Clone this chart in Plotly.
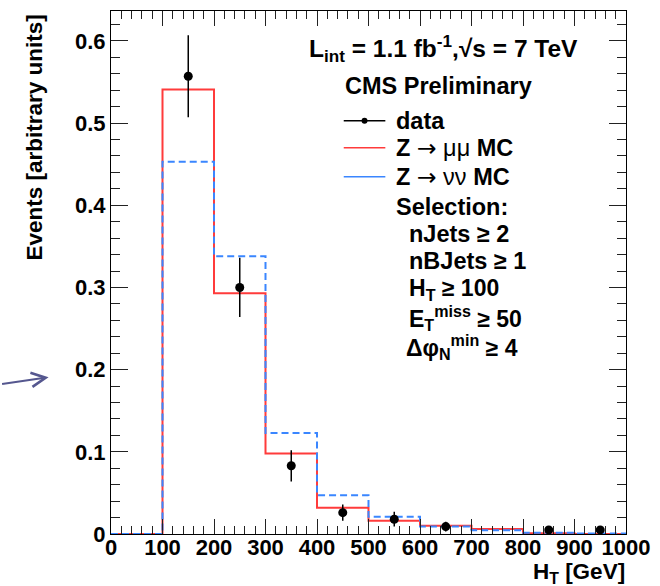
import plotly.graph_objects as go

# ---- data ----
bin_edges = [0, 100, 200, 300, 400, 500, 600, 700, 800, 900, 1000]
zmumu_mc = [0.0, 0.541, 0.293, 0.098, 0.032, 0.016, 0.010, 0.006, 0.001, 0.0]
znunu_mc = [0.0, 0.453, 0.338, 0.123, 0.047, 0.021, 0.009, 0.0045, 0.0016, 0.0005]
data_x = [150, 250, 350, 450, 550, 650, 850, 950]
data_y = [0.557, 0.300, 0.083, 0.026, 0.018, 0.009, 0.005, 0.005]
data_err = [0.050, 0.036, 0.019, 0.010, 0.009, 0.006, 0.002, 0.002]

x_ticks = list(range(0, 1001, 100))
y_ticks = [0, 0.1, 0.2, 0.3, 0.4, 0.5, 0.6]
y_tick_text = ["0", "0.1", "0.2", "0.3", "0.4", "0.5", "0.6"]
X_RANGE = [0, 1000]
Y_RANGE = [0, 0.6364]

RED = "#ff3b3b"
BLUE = "#3a86ff"
FONT = "Liberation Sans"
TXT = 23.5

W, H = 660, 586
L, R, T, B = 111, 29, 10, 52
PW, PH = W - L - R, H - T - B


def px(x):
    return (x - L) / PW


def py(y):
    return (H - B - y) / PH


fig = go.Figure()

fig.add_trace(go.Scatter(
    x=bin_edges, y=zmumu_mc + [zmumu_mc[-1]], mode="lines",
    line=dict(color=RED, width=2, shape="hv"), name="Z → μμ MC",
    showlegend=False))
fig.add_trace(go.Scatter(
    x=bin_edges, y=znunu_mc + [znunu_mc[-1]], mode="lines",
    line=dict(color=BLUE, width=2, shape="hv", dash="7px,4px"),
    name="Z → νν MC", showlegend=False))
fig.add_trace(go.Scatter(
    x=data_x, y=data_y, mode="markers",
    marker=dict(color="black", size=9, symbol="circle"),
    error_y=dict(type="data", array=data_err, visible=True,
                 color="black", thickness=1.5, width=0),
    name="data", showlegend=False))
# empty trace to attach the mirrored (top/right) tick axes
fig.add_trace(go.Scatter(x=[None], y=[None], xaxis="x2", yaxis="y2",
                         mode="lines", showlegend=False, hoverinfo="skip"))

tickfont = dict(family=FONT, size=22, color="black", weight="bold")
xminor = dict(ticks="inside", dtick=20, ticklen=8, tickcolor="#222", tickwidth=1)
yminor = dict(ticks="inside", dtick=0.02, ticklen=9, tickcolor="#222", tickwidth=1)

fig.update_layout(
    xaxis=dict(range=X_RANGE, tickvals=x_ticks, ticks="inside", ticklen=15,
               tickcolor="#222", tickwidth=1, minor=xminor,
               showline=True, linecolor="black", linewidth=1, mirror=True,
               showgrid=False, zeroline=False, tickfont=tickfont,
               ticklabelstandoff=-6),
    yaxis=dict(range=Y_RANGE, tickvals=y_ticks, ticktext=y_tick_text,
               ticks="inside", ticklen=17, tickcolor="#222", tickwidth=1,
               minor=yminor, showline=True, linecolor="black", linewidth=1,
               mirror=True, showgrid=False, zeroline=False, tickfont=tickfont),
    xaxis2=dict(range=X_RANGE, tickvals=x_ticks, ticks="inside", ticklen=15,
                tickcolor="#222", tickwidth=1, minor=xminor, side="top",
                overlaying="x", anchor="y2", showticklabels=False,
                showline=False, showgrid=False, zeroline=False),
    yaxis2=dict(range=Y_RANGE, tickvals=y_ticks, ticks="inside", ticklen=17,
                tickcolor="#222", tickwidth=1, minor=yminor, side="right",
                overlaying="y", anchor="x2", showticklabels=False,
                showline=False, showgrid=False, zeroline=False),
)

ann = []


def add_text(x, y, text, xanchor="left", size=TXT):
    ann.append(dict(x=px(x), y=py(y), xref="paper", yref="paper",
                    text=text, showarrow=False, xanchor=xanchor,
                    yanchor="middle",
                    font=dict(family=FONT, size=size, color="black")))


ARROW = "<span style='font-family:DejaVu Sans'>→</span>"

add_text(309, 48, "<b>L<sub>int</sub> = 1.1 fb<sup>-1</sup>,√s = 7 TeV</b>", size=24.5)
add_text(345, 85, "<b>CMS Preliminary</b>")
add_text(397, 120, "<b>data</b>")
add_text(397, 147, "<b>Z</b> " + ARROW + " μμ <b>MC</b>")
add_text(397, 176, "<b>Z</b> " + ARROW + " νν <b>MC</b>")
add_text(397, 206, "<b>Selection:</b>")
add_text(410, 233, "<b>nJets ≥ 2</b>")
add_text(410, 260, "<b>nBJets ≥ 1</b>")
add_text(410, 289, "<b>H<sub>T</sub> ≥ 100</b>", size=23)
add_text(410, 318, "<b>E<sub>T</sub><sup>miss</sup> ≥ 50</b>", size=23)
add_text(407, 347, "<b>Δφ<sub>N</sub><sup>min</sup> ≥ 4</b>", size=23)

# axis titles
add_text(632, 573, "<b>H<sub>T</sub> [GeV]</b>", xanchor="right", size=22.5)
ann.append(dict(x=px(34), y=py(137), xref="paper", yref="paper",
                text="<b>Events [arbitrary units]</b>", textangle=-90,
                showarrow=False, xanchor="center", yanchor="middle",
                font=dict(family=FONT, size=22.5, color="black")))

# arrow at left
ann.append(dict(x=px(48), y=py(377), xref="paper", yref="paper",
                ax=-48, ay=7, axref="pixel", ayref="pixel",
                showarrow=True, arrowhead=5, arrowsize=1.4, arrowwidth=2,
                arrowcolor="#55578f", text=""))

shapes = []
for yy, col in [(120, "black"), (147, RED), (176, BLUE)]:
    shapes.append(dict(type="line", xref="paper", yref="paper",
                       x0=px(346), x1=px(388), y0=py(yy), y1=py(yy),
                       line=dict(color=col, width=1.5)))
shapes.append(dict(type="circle", xref="paper", yref="paper",
                   x0=px(364), x1=px(370), y0=py(123), y1=py(117),
                   fillcolor="black", line=dict(color="black", width=0)))

fig.update_layout(
    width=W, height=H,
    margin=dict(l=L, r=R, t=T, b=B),
    paper_bgcolor="white", plot_bgcolor="white",
    annotations=ann, shapes=shapes,
    showlegend=False,
)

fig.write_html("out.html")
